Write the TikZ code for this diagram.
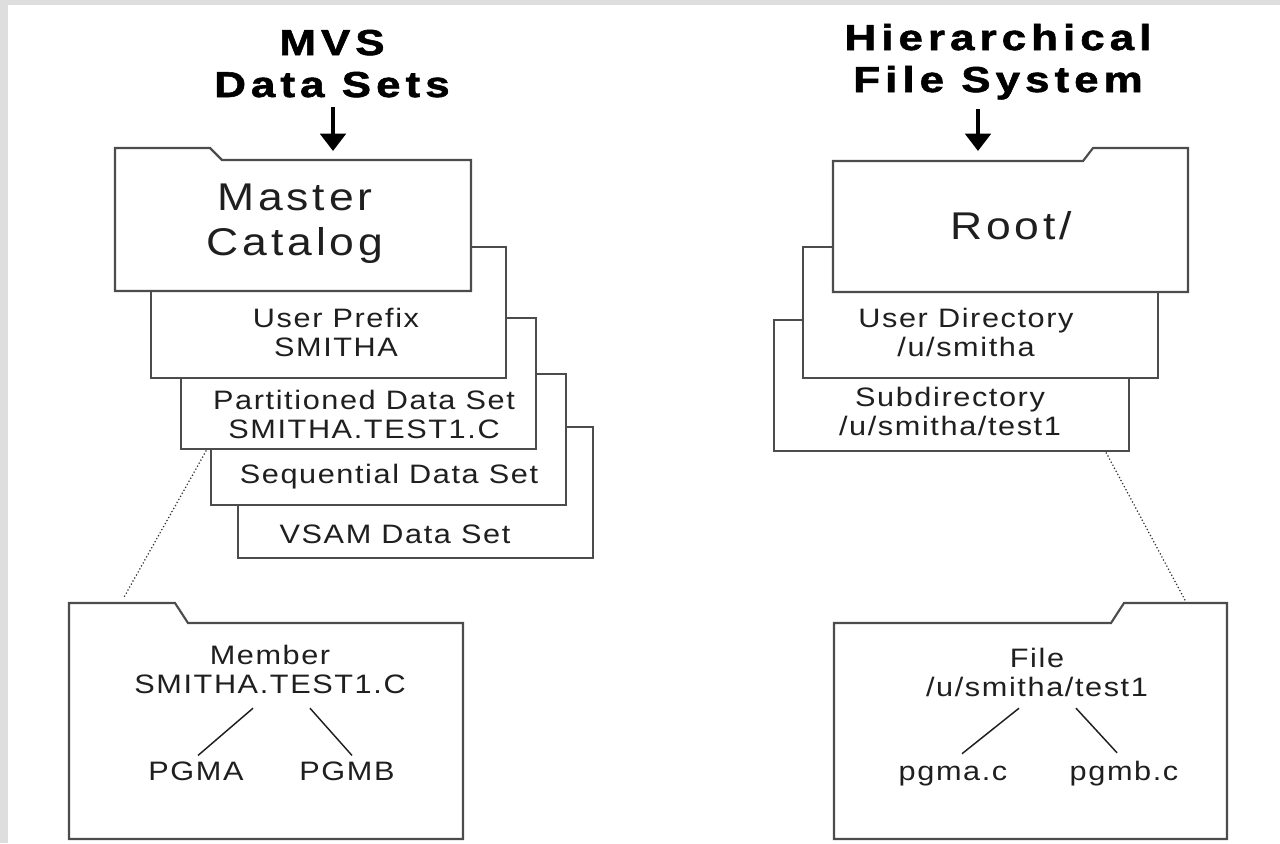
\documentclass[tikz,border=0pt]{standalone}
\usepackage{fontspec}
\setmainfont{Liberation Sans}
\newfontfamily\bodyfont[FakeStretch=1.15,LetterSpace=6]{Liberation Sans}
\newfontfamily\bigfont[FakeStretch=1.15,LetterSpace=10]{Liberation Sans}
\newfontfamily\titlefont[FakeStretch=1.22,LetterSpace=14,BoldFeatures={FakeBold=1.6}]{Liberation Sans}
\usetikzlibrary{arrows.meta,calc}
\definecolor{linec}{gray}{0.3}
\definecolor{txtc}{gray}{0.12}
\definecolor{bandc}{gray}{0.87}
\tikzset{
  outline/.style={draw=linec, line width=1.6pt, fill=white, line join=miter},
  stackbox/.style={outline, rectangle, inner sep=0pt, outer sep=0pt, anchor=north west,
    minimum width=266.25pt, minimum height=98.25pt},
  titletxt/.style={font=\fontsize{27}{31.5}\titlefont\bfseries, align=center, text=black, anchor=base, inner sep=2pt},
  bigtxt/.style={font=\fontsize{29}{33.75}\bigfont, align=center, text=txtc, anchor=base, inner sep=2pt},
  bodytxt/.style={font=\fontsize{20}{21.75}\bodyfont, align=center, text=txtc, anchor=base, inner sep=2pt},
  arr/.style={-{Triangle[width=19pt,length=13pt]}, line width=3pt, black, shorten <=5pt},
  tree/.style={draw=txtc, line width=1.1pt},
  dots/.style={draw=black!80, line width=1.3pt, line cap=round, dash pattern=on 0pt off 2.6pt},
}
\begin{document}
\begin{tikzpicture}[x=0.75pt,y=-0.75pt]
\useasboundingbox (0,0) rectangle (1280,843);
% page band
\fill[bandc] (0,0) rectangle (1280,5);
\fill[bandc] (0,0) rectangle (8,843);

% ---------- left: MVS data sets ----------
\node[titletxt] (mvs) at (332,97) {MVS\\Data Sets};
\node[stackbox] (vsam) at (238,427) {};
\node[stackbox] (seq) at (211,374) {};
\node[stackbox] (pds) at (181,318) {};
\node[stackbox] (up) at (151,247) {};
\draw[outline] (115,148) -- (210,148) -- (222,160) -- (471,160) -- (471,291) -- (115,291) -- cycle;
\coordinate (mcin) at (333,151);

\node[bigtxt] (mc) at (295,255) {Master\\Catalog};
\node[bodytxt] (uptxt) at (336,356) {User Prefix\\SMITHA};
\node[bodytxt] (pdstxt) at (364,438) {Partitioned Data Set\\SMITHA.TEST1.C};
\node[bodytxt] (seqtxt) at (389,483) {Sequential Data Set};
\node[bodytxt] (vsamtxt) at (395,543) {VSAM Data Set};

\draw[arr] (mvs.south -| mcin) -- (mcin);

% member folder
\draw[outline] (69,603) -- (175,603) -- (188,623) -- (463,623) -- (463,839) -- (69,839) -- cycle;
\coordinate (memtab) at (123,599);
\draw[dots] ([xshift=18.75pt,yshift=-1.5pt]pds.south west) -- (memtab);
\node[bodytxt] (mem) at (270,693) {Member\\SMITHA.TEST1.C};
\node[bodytxt] (pgma) at (196,780) {PGMA};
\node[bodytxt] (pgmb) at (347,780) {PGMB};
\draw[tree] ($(mem.south)+(-17,12)$) -- ($(pgma.north)+(2,-3)$);
\draw[tree] ($(mem.south)+(40,12)$) -- ($(pgmb.north)+(5,-3)$);

% ---------- right: hierarchical file system ----------
\node[titletxt] (hfs) at (998,92) {Hierarchical\\File System};
\node[stackbox] (sub) at (774,320) {};
\node[stackbox] (udir) at (803,247) {};
\draw[outline] (833,161) -- (1083,161) -- (1093,148) -- (1188,148) -- (1188,292) -- (833,292) -- cycle;
\coordinate (rootin) at (978,151);
\node[bigtxt] (root) at (1011,239) {Root/};
\node[bodytxt] (udirtxt) at (966,356) {User Directory\\/u/smitha};
\node[bodytxt] (subtxt) at (950,435) {Subdirectory\\/u/smitha/test1};
\draw[arr] (hfs.south -| rootin) -- (rootin);

% file folder
\draw[outline] (834,623) -- (1111,623) -- (1124,603) -- (1227,603) -- (1227,839) -- (834,839) -- cycle;
\coordinate (filetab) at (1186,602);
\draw[dots] ([xshift=-17pt,yshift=-1.5pt]sub.south east) -- (filetab);
\node[bodytxt] (file) at (1037,696) {File\\/u/smitha/test1};
\node[bodytxt] (pgmac) at (953,780) {pgma.c};
\node[bodytxt] (pgmbc) at (1124,780) {pgmb.c};
\draw[tree] ($(file.south)+(-18,9)$) -- ($(pgmac.north)+(9,-9)$);
\draw[tree] ($(file.south)+(39,9)$) -- ($(pgmbc.north)+(-7,-5)$);
\end{tikzpicture}
\end{document}
